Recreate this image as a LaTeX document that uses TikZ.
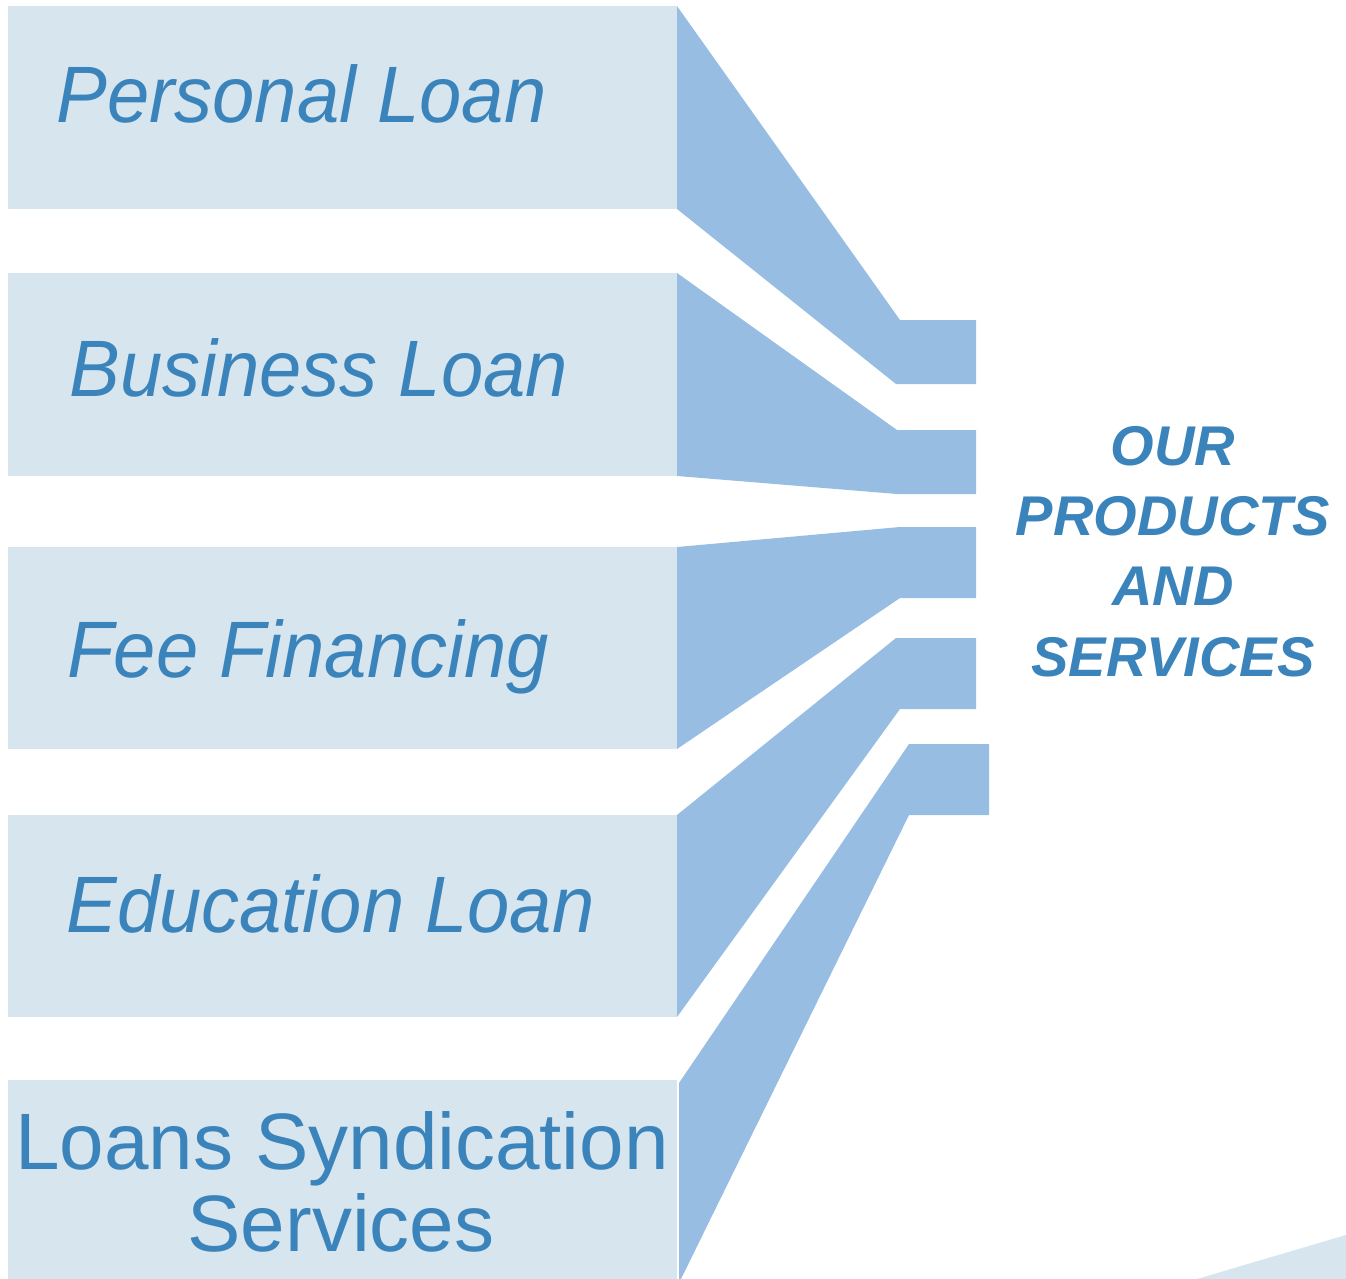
\documentclass[tikz,border=0pt]{standalone}
\usepackage{fontspec}
\setmainfont{Liberation Sans}
\newfontfamily\labelfont[FakeStretch=0.95]{Liberation Sans}
\definecolor{boxfill}{HTML}{D7E5EF}
\definecolor{bandfill}{HTML}{98BDE3}
\definecolor{textblue}{HTML}{3A84BB}
\tikzset{
  itemlabel/.style={anchor=base west, inner sep=0pt, text=textblue, font=\labelfont\itshape\fontsize{40}{48}\selectfont},
  uprightlabel/.style={anchor=base, inner sep=0pt, text=textblue, font=\fontsize{40}{48}\selectfont},
  titlelabel/.style={anchor=base, inner sep=0pt, text=textblue, font=\bfseries\itshape\fontsize{28}{34}\selectfont},
  band/.style={fill=bandfill},
  panel/.style={fill=boxfill}
}
\begin{document}
\begin{tikzpicture}[x=0.5pt,y=-0.5pt]
\useasboundingbox (0,0) rectangle (1346,1279);
% panels
\fill[panel] (8,6) rectangle (677,209);
\fill[panel] (8,273) rectangle (677,476);
\fill[panel] (8,547) rectangle (677,749);
\fill[panel] (8,815) rectangle (677,1017);
\fill[panel] (8,1080) rectangle (677,1279);
% bands
\fill[band] (677,6) -- (900,320) -- (976,320) -- (976,384) -- (896,384) -- (677,209) -- cycle;
\fill[band] (677,273) -- (897,430) -- (976,430) -- (976,494) -- (897,494) -- (677,476) -- cycle;
\fill[band] (677,547) -- (900,527) -- (976,527) -- (976,598) -- (900,598) -- (677,749) -- cycle;
\fill[band] (677,815) -- (896,638) -- (976,638) -- (976,709) -- (900,709) -- (677,1017) -- cycle;
\fill[band] (679,1083) -- (909,744) -- (989,744) -- (989,815) -- (909,815) -- (681,1279) -- (679,1279) -- cycle;
% corner triangle
\fill[panel] (1197,1279) -- (1346,1235) -- (1346,1279) -- cycle;
% labels
\node[itemlabel] (personal) at (56,123) {Personal Loan};
\node[itemlabel] (business) at (69,396) {Business Loan};
\node[itemlabel] (fee) at (67,677) {Fee Financing};
\node[itemlabel] (education) at (66,932) {Education Loan};
\node[uprightlabel] (syndication) at (342,1169) {Loans Syndication};
\node[uprightlabel] (services) at (341,1251) {Services};
% title
\node[titlelabel] (our) at (1173,465) {OUR};
\node[titlelabel] (products) at (1173,535) {PRODUCTS};
\node[titlelabel] (and) at (1173,605) {AND};
\node[titlelabel] (servicest) at (1173,676) {SERVICES};
\end{tikzpicture}
\end{document}
